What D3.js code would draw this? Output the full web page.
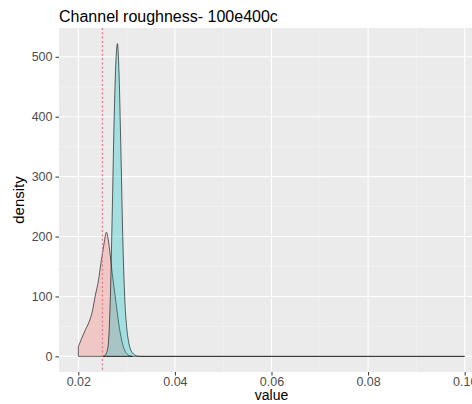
<!DOCTYPE html>
<html><head><meta charset="utf-8">
<script src="https://cdn.jsdelivr.net/npm/d3@7"></script>
<style>body{margin:0;background:#fff}svg{display:block}text{font-family:"Liberation Sans",Arial,sans-serif}</style>
</head><body><svg id="c" width="472" height="404"></svg>
<script>
const title = "Channel roughness- 100e400c";
const xTicks = [0.02, 0.04, 0.06, 0.08, 0.10];
const xTickLabels = ["0.02", "0.04", "0.06", "0.08", "0.10"];
const yTicks = [0, 100, 200, 300, 400, 500];
const refLine = 0.025;
// group 1 (red) density
const redX = [0.0200,0.0208,0.0215,0.0222,0.0229,0.0235,0.0242,0.0246,0.0253,0.0256,0.0258,0.0260,0.0262,0.0266,0.0270,0.0274,0.0278,0.0282,0.0286,0.0290,0.0294,0.0298,0.0302,0.0306,0.0312];
const redY = [16,32,45,57,75,101,128,151,187,202,207,204,195,170,140,115,90,65,43,26,14,7,3,1,0];
// group 2 (cyan) density
const cyanX = [0.0250,0.0254,0.0258,0.0262,0.0266,0.0270,0.0274,0.0278,0.0281,0.0284,0.0288,0.0292,0.0296,0.0300,0.0304,0.0308,0.0312,0.0316,0.0320,0.0326,0.0336,0.1000];
const cyanY = [0,1,5,20,90,230,390,495,522,480,350,200,100,50,25,12,6,3,1,0.2,0,0];

const svg = d3.select("#c");
const L = 59, R = 484, T = 28, B = 372;
const x = d3.scaleLinear().domain([0.016, 0.104]).range([L, R]);
const y = d3.scaleLinear().domain([-26.1, 548.1]).range([B, T]);

svg.append("defs").append("clipPath").attr("id","pc").append("rect")
  .attr("x", L).attr("y", T).attr("width", R-L).attr("height", B-T);
const g = svg.append("g").attr("clip-path","url(#pc)");
g.append("rect").attr("x", L).attr("y", T).attr("width", R-L).attr("height", B-T).attr("fill", "#EBEBEB");
// minor grid
const xMinor = [0.01,0.03,0.05,0.07,0.09,0.11];
const yMinor = [50,150,250,350,450,550];
g.selectAll(".xm").data(xMinor).join("line").attr("x1", d=>x(d)).attr("x2", d=>x(d)).attr("y1", T).attr("y2", B).attr("stroke","#F5F5F5").attr("stroke-width",0.6);
g.selectAll(".ym").data(yMinor).join("line").attr("y1", d=>y(d)).attr("y2", d=>y(d)).attr("x1", L).attr("x2", R).attr("stroke","#F5F5F5").attr("stroke-width",0.6);
g.selectAll(".xM").data(xTicks).join("line").attr("x1", d=>x(d)).attr("x2", d=>x(d)).attr("y1", T).attr("y2", B).attr("stroke","#fff").attr("stroke-width",1.1);
g.selectAll(".yM").data(yTicks).join("line").attr("y1", d=>y(d)).attr("y2", d=>y(d)).attr("x1", L).attr("x2", R).attr("stroke","#fff").attr("stroke-width",1.1);

function poly(xs, ys) {
  const pts = xs.map((v,i)=>[v, ys[i]]);
  const line = d3.line().x(d=>x(d[0])).y(d=>y(d[1])).curve(d3.curveMonotoneX);
  const top = line(pts);
  return top + `L${x(xs[xs.length-1])},${y(0)}L${x(xs[0])},${y(0)}Z`;
}
g.append("path").attr("d", poly(redX, redY)).attr("fill","#F8766D").attr("fill-opacity",0.3).attr("stroke","#000").attr("stroke-width",0.6);
g.append("path").attr("d", poly(cyanX, cyanY)).attr("fill","#00BFC4").attr("fill-opacity",0.3).attr("stroke","#000").attr("stroke-width",0.6);
g.append("line").attr("x1", x(refLine)).attr("x2", x(refLine)).attr("y1", T).attr("y2", B)
  .attr("stroke","#E27C8C").attr("stroke-width",1.3).attr("stroke-dasharray","2,2.3");

// axes
const xa = svg.append("g").attr("transform",`translate(0,${B})`)
  .call(d3.axisBottom(x).tickValues(xTicks).tickFormat((d,i)=>xTickLabels[i]).tickSize(3.5).tickPadding(2));
const ya = svg.append("g").attr("transform",`translate(${L},0)`)
  .call(d3.axisLeft(y).tickValues(yTicks).tickSize(3.5).tickPadding(3));
[xa, ya].forEach(a => {
  a.select(".domain").remove();
  a.selectAll(".tick line").attr("stroke","#333").attr("stroke-width",1);
  a.selectAll(".tick text").attr("fill","#4D4D4D").style("font-size","12.5px").style("font-family","'Liberation Sans',Arial,sans-serif");
});

svg.append("text").attr("x", L).attr("y", 22).text(title).attr("fill","#000").style("font-size","16px");
svg.append("text").attr("x", (L+R)/2).attr("y", 400).attr("text-anchor","middle").text("value").style("font-size","14px");
svg.append("text").attr("transform",`translate(24,${(T+B)/2}) rotate(-90)`).attr("text-anchor","middle").text("density").style("font-size","15px");
</script></body></html>
